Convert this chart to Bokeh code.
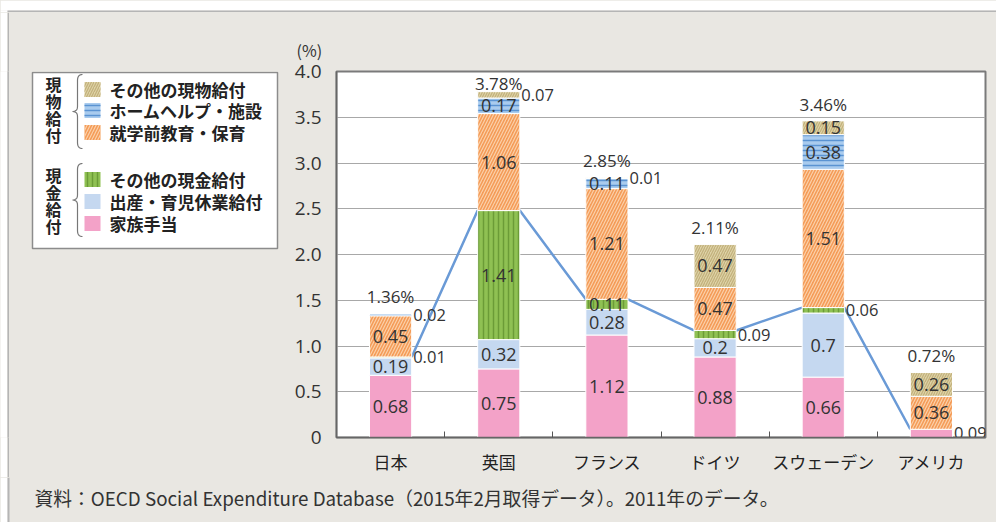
import numpy as np
from bokeh.plotting import figure
from bokeh.models import Range1d, FixedTicker, ColumnDataSource
from bokeh.layouts import row, column
from bokeh.embed import file_html
from bokeh.resources import INLINE
from bokeh.core.properties import value

# ---------------- data ----------------
countries = ["日本", "英国", "フランス", "ドイツ", "スウェーデン", "アメリカ"]
family_allowance = [0.68, 0.75, 1.12, 0.88, 0.66, 0.09]   # 家族手当
maternity_leave = [0.19, 0.32, 0.28, 0.20, 0.70, 0.00]    # 出産・育児休業給付
other_cash = [0.01, 1.41, 0.11, 0.09, 0.06, 0.00]         # その他の現金給付
preschool = [0.45, 1.06, 1.21, 0.47, 1.51, 0.36]          # 就学前教育・保育
home_help = [0.02, 0.17, 0.11, 0.00, 0.38, 0.00]          # ホームヘルプ・施設
other_in_kind = [0.00, 0.07, 0.01, 0.47, 0.15, 0.26]      # その他の現物給付
totals = [1.36, 3.78, 2.85, 2.11, 3.46, 0.72]
y_ticks = [0, 0.5, 1.0, 1.5, 2.0, 2.5, 3.0, 3.5, 4.0]
y_tick_labels = ["0", "0.5", "1.0", "1.5", "2.0", "2.5", "3.0", "3.5", "4.0"]
series_names = ["家族手当", "出産・育児休業給付", "その他の現金給付",
                "就学前教育・保育", "ホームヘルプ・施設", "その他の現物給付"]
group_names = ["現物給付", "現金給付"]
note_text = "資料：OECD Social Expenditure Database（2015年2月取得データ）。2011年のデータ。"
unit_text = "(%)"

series = [family_allowance, maternity_leave, other_cash, preschool, home_help, other_in_kind]
n_cash = 3  # first three series are cash benefits

# ---------------- styles ----------------
BG = "#e9e7e2"
FRAME = "#b5b5b5"
JP = "Noto Sans CJK JP"
NUM = "Open Sans"
styles = [
    dict(fill_color="#f3a2c8"),
    dict(fill_color="#c5d8f0"),
    dict(fill_color="#8fc153", hatch_pattern="|", hatch_color="#6b9c37", hatch_scale=5, hatch_weight=1.5),
    dict(fill_color="#f49b57", hatch_pattern="/", hatch_color="#fbd1aa", hatch_scale=6, hatch_weight=1.2),
    dict(fill_color="#a9cbee", hatch_pattern="-", hatch_color="#5a93d2", hatch_scale=5, hatch_weight=1.5),
    dict(fill_color="#ddd2a6", hatch_pattern="/", hatch_color="#c2b07a", hatch_scale=5, hatch_weight=1.2),
]
BAR_W = 0.39
HW = BAR_W / 2
Y_MAX = 4.0

n = len(countries)
xc = np.arange(n, dtype=float)  # category positions

TOP_H = 12
ROW_H = 465
NOTE_H = 45
BT, BB = 59, 40   # chart borders (top, bottom)


def blank(width, height, xr, yr, bg):
    f = figure(width=width, height=height, x_range=xr, y_range=yr,
               output_backend="svg", toolbar_location=None, min_border=0,
               x_axis_location=None, y_axis_location=None,
               background_fill_color=bg, border_fill_color=bg)
    f.outline_line_color = None
    f.xgrid.visible = False
    f.ygrid.visible = False
    return f


# ---------------- chart figure ----------------
p = figure(width=706, height=ROW_H, x_range=Range1d(-0.5, n - 0.5), y_range=Range1d(0, Y_MAX),
           output_backend="svg", toolbar_location=None,
           min_border_left=46, min_border_right=11, min_border_top=BT, min_border_bottom=BB,
           background_fill_color="white", border_fill_color=BG)
p.styles = {"margin-left": "-1px"}
p.outline_line_color = "#7a7a7a"
p.outline_line_width = 2

p.yaxis.ticker = FixedTicker(ticks=y_ticks)
p.yaxis.major_label_overrides = {t: l for t, l in zip(y_ticks, y_tick_labels)}
p.yaxis.major_tick_line_color = None
p.yaxis.minor_tick_line_color = None
p.yaxis.axis_line_color = "#666666"
p.yaxis.axis_line_width = 1.5
p.yaxis.major_label_text_font = NUM
p.yaxis.major_label_text_font_size = "19px"
p.yaxis.major_label_text_color = "#333333"
p.yaxis.major_label_standoff = 9
p.ygrid.ticker = FixedTicker(ticks=y_ticks)
p.ygrid.grid_line_color = "#a8a8a8"
p.xgrid.visible = False

p.xaxis.ticker = FixedTicker(ticks=list(xc), minor_ticks=list(xc[:-1] + 0.5))
p.xaxis.major_label_overrides = {int(i): c for i, c in zip(xc, countries)}
p.xaxis.major_tick_line_color = None
p.xaxis.minor_tick_in = 6
p.xaxis.minor_tick_out = 0
p.xaxis.minor_tick_line_color = "#555555"
p.xaxis.axis_line_color = "#666666"
p.xaxis.axis_line_width = 1.5
p.xaxis.major_label_text_font = JP
p.xaxis.major_label_text_font_size = "17px"
p.xaxis.major_label_text_color = "#222222"
p.xaxis.major_label_standoff = 5

p.title.text = unit_text
p.title.align = "left"
p.title.offset = -40
p.title.text_font = JP
p.title.text_font_size = "16px"
p.title.text_font_style = "normal"
p.title.text_color = "#333333"
p.title.standoff = 20

# cash-benefit connecting line (drawn behind bars)
cash_tot = np.sum(np.array(series[:n_cash]), axis=0)
lx, ly = [], []
for i in range(n - 1):
    lx += [xc[i] + HW, xc[i + 1] - HW]
    ly += [float(cash_tot[i]), float(cash_tot[i + 1])]
p.line(x=lx, y=ly, line_color="#6a9ad6", line_width=2.5)

# stacked bars
bottom = np.zeros(n)
in_x, in_y, in_t = [], [], []
out_x, out_y, out_t = [], [], []
for vals, st in zip(series, styles):
    vals = np.array(vals, dtype=float)
    top_ = bottom + vals
    mask = vals > 0
    src = ColumnDataSource(dict(x=xc[mask], bottom=bottom[mask], top=top_[mask]))
    p.vbar(x="x", bottom="bottom", top="top", width=BAR_W, source=src,
           line_color="white", line_width=1, **st)
    for x0, v, b in zip(xc, vals, bottom):
        if v <= 0:
            continue
        mid = float(b + v / 2)
        if v >= 0.1:
            in_x.append(x0); in_y.append(mid); in_t.append(f"{v:g}")
        else:
            out_x.append(x0 + HW); out_y.append(mid); out_t.append(f"{v:g}")
    bottom = top_

p.text(x=in_x, y=in_y, text=in_t, text_align="center", text_baseline="middle",
       text_font=value(NUM), text_font_size="18px", text_color="#333333")
p.text(x=out_x, y=out_y, text=out_t, text_align="left", text_baseline="middle",
       x_offset=1.5, text_font=value(NUM), text_font_size="16.5px", text_color="#333333")
# total labels sit above each bar, kept inside the plot area
total_y = np.minimum(np.array(totals) + 0.18, Y_MAX - 0.13)
p.text(x=xc, y=total_y, text=[f"{t:.2f}%" for t in totals], text_align="center",
       text_baseline="middle", text_font=value(NUM), text_font_size="17px",
       text_color="#333333")

# ---------------- left page edge ----------------
edge_white = blank(7, ROW_H, Range1d(0, 1), Range1d(0, 1), "white")
edge_white.min_border_top = BT
edge_white.min_border_bottom = BB
edge_line = blank(2, ROW_H, Range1d(0, 1), Range1d(0, 1), FRAME)
edge_line.min_border_top = BT
edge_line.min_border_bottom = BB

# ---------------- legend figure (pixel-like coordinates) ----------------
lg = blank(282, ROW_H, Range1d(9, 291), Range1d(437, 71), BG)
lg.min_border_top = BT
lg.min_border_bottom = BB
lg.quad(left=[32], right=[277], top=[72], bottom=[248], fill_color="white",
        line_color="#8c8c8c", line_width=1.5)

order = [5, 4, 3, 2, 1, 0]
row_y = [89, 110, 132, 179, 201, 223]
for k, ry in zip(order, row_y):
    lg.quad(left=[84], right=[100], top=[ry - 7.5], bottom=[ry + 7.5], line_color=None, **styles[k])
lg.text(x=[109] * 6, y=row_y, text=[series_names[k] for k in order], text_baseline="middle",
        text_font=value(JP), text_font_size="17px", text_font_style="bold", text_color="#222222")

gx, gy, gt = [], [], []
for g, cy in zip(group_names, [109, 200]):
    for j, ch in enumerate(g):
        gx.append(53); gy.append(cy + (j - 1.5) * 17); gt.append(ch)
lg.text(x=gx, y=gy, text=gt, text_align="center", text_baseline="middle",
        text_font=value(JP), text_font_size="16px", text_font_style="bold", text_color="#222222")


def brace(yt, yb, xr=82, xs=77, xt=72):
    ym = (yt + yb) / 2

    def qb(p0, c, p1, k=8):
        t = np.linspace(0, 1, k)
        return ((1 - t) ** 2 * p0[0] + 2 * (1 - t) * t * c[0] + t ** 2 * p1[0],
                (1 - t) ** 2 * p0[1] + 2 * (1 - t) * t * c[1] + t ** 2 * p1[1])
    segs = [qb((xr, yt), (xs, yt), (xs, yt + 6)),
            qb((xs, ym - 5), (xs, ym), (xt, ym)),
            qb((xt, ym), (xs, ym), (xs, ym + 5)),
            qb((xs, yb - 6), (xs, yb), (xr, yb))]
    return (np.concatenate([s[0] for s in segs]), np.concatenate([s[1] for s in segs]))


for yt, yb in [(74, 148), (163, 236)]:
    bx, by = brace(yt, yb)
    lg.line(bx, by, line_color="#777777", line_width=1.2)

# ---------------- top strip ----------------
top = blank(996, TOP_H, Range1d(0, 996), Range1d(TOP_H, 0), BG)
top.quad(left=[0], right=[996], top=[0], bottom=[10], fill_color="white", line_color=None)
top.quad(left=[0], right=[7], top=[10], bottom=[TOP_H], fill_color="white", line_color=None)
top.quad(left=[7], right=[996], top=[10], bottom=[TOP_H], fill_color=FRAME, line_color=None)

# ---------------- note figure ----------------
nf = blank(996, NOTE_H, Range1d(0, 996), Range1d(TOP_H + ROW_H + NOTE_H, TOP_H + ROW_H), BG)
nf.quad(left=[0], right=[7], top=[TOP_H + ROW_H], bottom=[TOP_H + ROW_H + NOTE_H],
        fill_color="white", line_color=None)
nf.quad(left=[7], right=[9], top=[TOP_H + ROW_H], bottom=[TOP_H + ROW_H + NOTE_H],
        fill_color=FRAME, line_color=None)
nf.text(x=[34], y=[497], text=[note_text], text_baseline="middle",
        text_font=value(JP), text_font_size="18.8px", text_color="#333333")

mid_row = row(edge_white, edge_line, lg, p)
mid_row.styles = {"background-color": BG}
layout = column(top, mid_row, nf)
layout.styles = {"background-color": BG}

open("out.html", "w").write(file_html(layout, INLINE))
